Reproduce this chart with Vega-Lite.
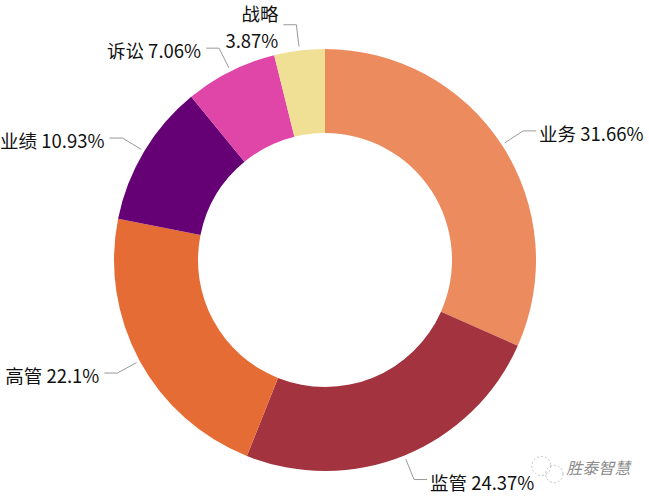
{
  "$schema": "https://vega.github.io/schema/vega-lite/v6.json",
  "description": "Donut of share by category",
  "autosize": {"type": "fit", "contains": "padding"},
  "width": 649,
  "height": 500,
  "padding": 0,
  "background": "white",
  "config": {"view": {"stroke": null}, "text": {"font": "Noto Sans CJK SC"}},
  "data": {
    "values": [
      {"rank": 1, "name": "业务", "share": 31.66},
      {"rank": 2, "name": "监管", "share": 24.37},
      {"rank": 3, "name": "高管", "share": 22.1},
      {"rank": 4, "name": "业绩", "share": 10.93},
      {"rank": 5, "name": "诉讼", "share": 7.06},
      {"rank": 6, "name": "战略", "share": 3.87}
    ]
  },
  "transform": [
    {"window": [{"op": "sum", "field": "share", "as": "cum"}], "sort": [{"field": "rank", "order": "ascending"}]},
    {"calculate": "(datum.cum - datum.share / 2) / 99.99 * 2 * PI", "as": "mid"},
    {"calculate": "215 * sin(datum.mid)", "as": "x0"},
    {"calculate": "215 * cos(datum.mid)", "as": "y0"},
    {"calculate": "237 * sin(datum.mid)", "as": "kx"},
    {"calculate": "237 * cos(datum.mid)", "as": "ky"},
    {"calculate": "datum.kx + (datum.kx > 0 ? 13 : -13)", "as": "ex"},
    {"calculate": "datum.ex + (datum.kx > 0 ? 3 : -5)", "as": "lx"},
    {"calculate": "datum.name + (datum.share < 5 ? '\\n' : ' ') + datum.share + '%'", "as": "label"}
  ],
  "layer": [
    {
      "mark": {"type": "arc", "innerRadius": 127, "outerRadius": 211},
      "encoding": {
        "x": {"datum": 0, "type": "quantitative", "scale": {"domain": [-324, 325], "nice": false, "zero": false}, "axis": null},
        "y": {"datum": 0, "type": "quantitative", "scale": {"domain": [-240, 260], "nice": false, "zero": false}, "axis": null},
        "theta": {"field": "share", "type": "quantitative", "stack": true, "scale": {"domain": [0, 99.99]}},
        "order": {"field": "rank", "type": "ordinal"},
        "color": {
          "field": "name",
          "type": "nominal",
          "legend": null,
          "scale": {
            "domain": ["业务", "监管", "高管", "业绩", "诉讼", "战略"],
            "range": ["#EC8B5E", "#A2333F", "#E66C35", "#660075", "#E045A8", "#F0E096"]
          }
        }
      }
    },
    {
      "mark": {"type": "rule", "color": "#999999", "strokeWidth": 1},
      "encoding": {
        "x": {"field": "x0", "type": "quantitative"},
        "y": {"field": "y0", "type": "quantitative"},
        "x2": {"field": "kx"},
        "y2": {"field": "ky"}
      }
    },
    {
      "mark": {"type": "rule", "color": "#999999", "strokeWidth": 1},
      "encoding": {
        "x": {"field": "kx", "type": "quantitative"},
        "y": {"field": "ky", "type": "quantitative"},
        "x2": {"field": "ex"},
        "y2": {"field": "ky"}
      }
    },
    {
      "transform": [{"filter": "datum.kx > 0"}],
      "mark": {"type": "text", "align": "left", "baseline": "middle", "fontSize": 18.5, "dy": 4, "color": "#111111"},
      "encoding": {
        "x": {"field": "lx", "type": "quantitative"},
        "y": {"field": "ky", "type": "quantitative"},
        "text": {"field": "label"}
      }
    },
    {
      "transform": [{"filter": "datum.kx < 0 && datum.share >= 5"}],
      "mark": {"type": "text", "align": "right", "baseline": "middle", "fontSize": 18.5, "dy": 4, "color": "#111111"},
      "encoding": {
        "x": {"field": "lx", "type": "quantitative"},
        "y": {"field": "ky", "type": "quantitative"},
        "text": {"field": "label"}
      }
    },
    {
      "transform": [{"filter": "datum.share < 5"}],
      "mark": {"type": "text", "align": "right", "baseline": "middle", "fontSize": 18.5, "dy": -10, "color": "#111111", "lineBreak": "\n", "lineHeight": 27},
      "encoding": {
        "x": {"field": "lx", "type": "quantitative"},
        "y": {"field": "ky", "type": "quantitative"},
        "text": {"field": "label"}
      }
    },
    {
      "data": {"values": [{"px": 242, "py": -209, "text": "胜泰智慧"}]},
      "mark": {"type": "text", "align": "left", "baseline": "middle", "fontSize": 16, "color": "#8a8a8a", "font": "Noto Sans CJK SC", "fontStyle": "italic"},
      "encoding": {
        "x": {"field": "px", "type": "quantitative"},
        "y": {"field": "py", "type": "quantitative"},
        "text": {"field": "text"}
      }
    },
    {
      "data": {"values": [{"px": 217, "py": -206, "r": 180}, {"px": 230, "py": -214, "r": 150}]},
      "mark": {"type": "point", "shape": "circle", "filled": false, "color": "#aaaaaa", "strokeWidth": 1, "strokeDash": [2, 2]},
      "encoding": {
        "x": {"field": "px", "type": "quantitative"},
        "y": {"field": "py", "type": "quantitative"},
        "size": {"field": "r", "type": "quantitative", "legend": null, "scale": {"type": "identity"}}
      }
    }
  ]
}
